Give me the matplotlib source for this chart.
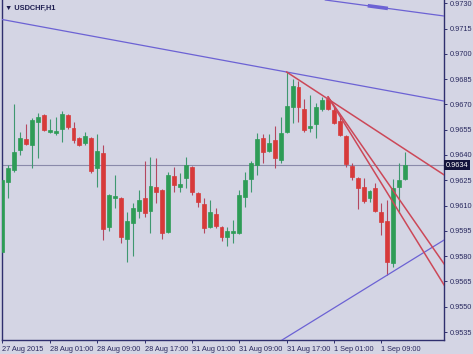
import matplotlib
matplotlib.use('Agg')
import matplotlib.pyplot as plt

# USDCHF H1 bars, 27 Aug 2015 17:00 -> 1 Sep 2015 13:00 (prices)

opens = [0.95825, 0.96240, 0.96311, 0.96430, 0.96495, 0.96459, 0.96596, 0.96637, 0.96536, 0.96530,
         0.96554, 0.96637, 0.96560, 0.96501, 0.96471, 0.96501, 0.96323, 0.96412, 0.95973, 0.96145,
         0.96145, 0.95902, 0.95997, 0.96068, 0.96145, 0.96068, 0.96210, 0.96192, 0.95943, 0.96275,
         0.96210, 0.96263, 0.96329, 0.96175, 0.96109, 0.95973, 0.96050, 0.95973, 0.95914, 0.95937,
         0.95937, 0.96151, 0.96258, 0.96341, 0.96501, 0.96424, 0.96489, 0.96370, 0.96536, 0.96685,
         0.96803, 0.96673, 0.96560, 0.96584, 0.96673, 0.96732, 0.96667, 0.96601, 0.96513, 0.96335,
         0.96263, 0.96210, 0.96145, 0.96204, 0.96062, 0.96009, 0.95759, 0.96210, 0.96258]
highs = [0.96258, 0.96341, 0.96702, 0.96536, 0.96584, 0.96619, 0.96649, 0.96643, 0.96613, 0.96625,
         0.96661, 0.96643, 0.96596, 0.96507, 0.96536, 0.96507, 0.96524, 0.96459, 0.96169, 0.96281,
         0.96151, 0.96062, 0.96115, 0.96192, 0.96364, 0.96388, 0.96382, 0.96198, 0.96299, 0.96329,
         0.96293, 0.96388, 0.96335, 0.96180, 0.96145, 0.96133, 0.96086, 0.95979, 0.95973, 0.96014,
         0.96192, 0.96299, 0.96364, 0.96530, 0.96524, 0.96524, 0.96572, 0.96625, 0.96892, 0.96851,
         0.96839, 0.96732, 0.96756, 0.96708, 0.96744, 0.96744, 0.96685, 0.96637, 0.96518, 0.96352,
         0.96269, 0.96263, 0.96192, 0.96234, 0.96115, 0.96133, 0.96258, 0.96352, 0.96418]
lows = [0.95819, 0.96145, 0.96299, 0.96400, 0.96459, 0.96323, 0.96382, 0.96542, 0.96530, 0.96518,
        0.96477, 0.96554, 0.96471, 0.96453, 0.96459, 0.96293, 0.96210, 0.95896, 0.95949, 0.96086,
        0.95878, 0.95765, 0.95801, 0.96026, 0.96032, 0.95937, 0.96115, 0.95902, 0.95937, 0.96180,
        0.96180, 0.96204, 0.96163, 0.96092, 0.95937, 0.95967, 0.95967, 0.95890, 0.95860, 0.95878,
        0.95931, 0.96092, 0.96180, 0.96281, 0.96352, 0.96418, 0.96323, 0.96352, 0.96530, 0.96590,
        0.96596, 0.96536, 0.96536, 0.96501, 0.96661, 0.96667, 0.96584, 0.96513, 0.96329, 0.96252,
        0.96080, 0.96115, 0.96121, 0.96062, 0.95925, 0.95688, 0.95736, 0.96056, 0.96252]
closes = [0.96252, 0.96323, 0.96418, 0.96501, 0.96465, 0.96607, 0.96625, 0.96548, 0.96548, 0.96542,
          0.96643, 0.96566, 0.96489, 0.96459, 0.96513, 0.96305, 0.96424, 0.95961, 0.96163, 0.96157,
          0.95914, 0.96009, 0.96086, 0.96133, 0.96056, 0.96216, 0.96180, 0.95937, 0.96281, 0.96222,
          0.96228, 0.96341, 0.96180, 0.96121, 0.95967, 0.96062, 0.95979, 0.95914, 0.95949, 0.95949,
          0.96163, 0.96252, 0.96352, 0.96495, 0.96418, 0.96471, 0.96382, 0.96530, 0.96690, 0.96809,
          0.96685, 0.96548, 0.96572, 0.96685, 0.96726, 0.96673, 0.96590, 0.96518, 0.96347, 0.96269,
          0.96204, 0.96127, 0.96186, 0.96068, 0.96003, 0.95765, 0.96204, 0.96252, 0.96341]

bid = 0.9634

# x axis labels (bar index -> time)
tick_bars = [0, 8, 16, 24, 32, 40, 48, 56, 64]
tick_labels = ['27 Aug 2015', '28 Aug 01:00', '28 Aug 09:00', '28 Aug 17:00', '31 Aug 01:00',
               '31 Aug 09:00', '31 Aug 17:00', '1 Sep 01:00', '1 Sep 09:00']
price_ticks = [0.9535, 0.9550, 0.9565, 0.9580, 0.9595, 0.9610, 0.9625,
               0.9640, 0.9655, 0.9670, 0.9685, 0.9700, 0.9715, 0.9730]

# trendlines as (bar, price) anchor pairs
blue_resistance = [(0, 0.97203), (48, 0.96892)]
blue_upper = [(55.8, 0.97313), (74.6, 0.97224)]
blue_support = [(65, 0.95688), (74.6, 0.95896)]
red_rays = [[(48, 0.96892), (70.5, 0.96376)],
            [(55, 0.96744), (74.6, 0.95754)],
            [(55, 0.96744), (74.6, 0.95629)]]

BG = '#d4d5e4'
AXIS = '#2f2f6e'
GREEN = '#2e9c56'
RED = '#d73a3a'
GREEN_WICK = '#3f9870'
RED_WICK = '#b4475f'
BLUE_LINE = '#6c62d4'
RED_LINE = '#cc4858'

plt.rcParams['font.family'] = ['Liberation Sans', 'DejaVu Sans']

fig = plt.figure(figsize=(4.73, 3.54), dpi=100, facecolor=BG)
ax = fig.add_axes([2 / 473, 14 / 354, 442 / 473, 340 / 354])
ax.set_facecolor(BG)

# Candles

x = list(range(len(opens)))
for i in x:
    up = closes[i] >= opens[i]
    ax.vlines(i, lows[i], highs[i], color=GREEN_WICK if up else RED_WICK, lw=0.8, zorder=2)
    lo = min(opens[i], closes[i])
    ax.bar(i, abs(closes[i] - opens[i]), bottom=lo, width=0.66,
           color=GREEN if up else RED, edgecolor=GREEN if up else RED, lw=0.5, zorder=3)

# current bid line
ax.axhline(bid, color='#8a8aaa', lw=0.8, zorder=1)

# Trendlines

for line in [blue_resistance, blue_upper, blue_support]:
    ax.axline(line[0], line[1], color=BLUE_LINE, lw=0.9, zorder=4)

(x1, y1), (x2, y2) = blue_upper
slope = (y2 - y1) / (x2 - x1)
ax.plot([61.7, 65.1], [y1 + slope * (61.7 - x1), y1 + slope * (65.1 - x1)],
        color=BLUE_LINE, lw=2.6, solid_capstyle='butt', zorder=4)

for (x1, y1), (x2, y2) in red_rays:
    slope = (y2 - y1) / (x2 - x1)
    ax.plot([x1, 80], [y1, y1 + slope * (80 - x1)], color=RED_LINE, lw=1.1, zorder=5)

ax.set_xlim(-0.08, 74.58)
ax.set_ylim(0.95303, 0.97319)

# Axes styling

for side in ['left', 'right', 'bottom']:
    ax.spines[side].set_color(AXIS)
    ax.spines[side].set_linewidth(1.0)
ax.spines['top'].set_visible(False)

ax.yaxis.tick_right()
ax.set_yticks(price_ticks, [f'{p:.4f}' for p in price_ticks])
ax.set_xticks(tick_bars, tick_labels, ha='left')
ax.tick_params(axis='both', colors=AXIS, labelcolor='#28285e', labelsize=5.3,
               length=2.5, width=0.7, pad=1.5)

ax.text(1.004, bid, '0.9634', transform=ax.get_yaxis_transform(), ha='left', va='center',
        fontsize=5.3, color='white', clip_on=False,
        bbox=dict(boxstyle='square,pad=0.2', fc='#14143c', ec='none'))

fig.text(5 / 473, 1 - 8 / 354, '\u25bc USDCHF,H1', fontsize=5.3, color='#1e1e50',
         fontweight='bold', va='center', ha='left')

fig.savefig('out.png', dpi=100, facecolor=BG)
